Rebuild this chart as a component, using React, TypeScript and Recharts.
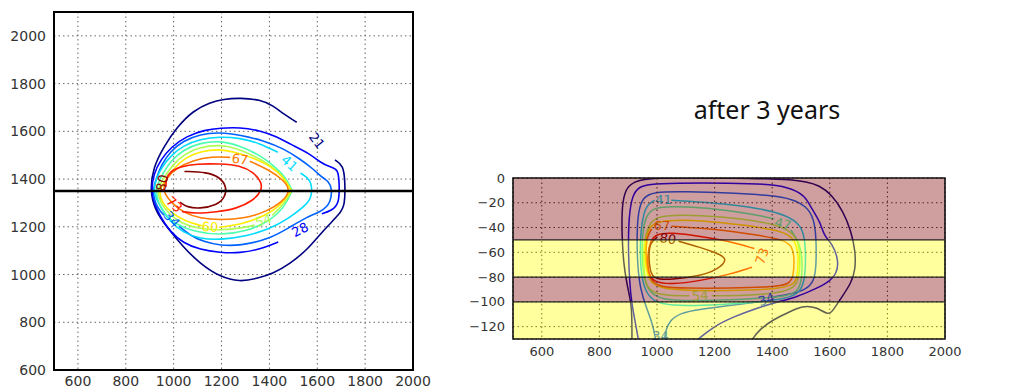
import React from "react"
import {
  LineChart,
  Line,
  XAxis,
  YAxis,
  CartesianGrid,
  ReferenceLine,
  ReferenceArea,
  ReferenceDot,
} from "recharts"

type Pt = [number, number | null]

// ticks
const xTicks = [600, 800, 1000, 1200, 1400, 1600, 1800, 2000]
const planYTicks = [600, 800, 1000, 1200, 1400, 1600, 1800, 2000]
const depthTicks = [-120, -100, -80, -60, -40, -20, 0]

// contour levels and their jet colours
const levels = [21, 28, 34, 41, 47, 54, 60, 67, 73, 80]
const levelColors = ["#000080", "#0000ff", "#0061ff", "#00dbff", "#4affad", "#adff52", "#ffed00", "#ff7a00", "#ff1c00", "#800000"]

// plan view contours (x, y); a null y breaks the line where a label sits
const plan21: Pt[] = [[1674,1480],[1709,1457],[1716,1394],[1716,1290],[1695,1255],[1625,1185],[1556,1101],[1486,1046],[1416,1004],[1347,983],[1277,969],[1194,990],[1110,1046],[1040,1115],[971,1199],[922,1269],[901,1352],[915,1450],[957,1533],[1013,1617],[1082,1687],[1152,1721],[1208,1735],[1277,1740],[1361,1733],[1417,1707],[1458,1673],[1514,1638]]
const plan28: Pt[] = [[1437,1136],[1360,1105],[1277,1090],[1194,1092],[1110,1104],[1040,1132],[985,1180],[945,1240],[918,1300],[906,1352],[916,1420],[945,1480],[990,1535],[1054,1580],[1130,1606],[1194,1614],[1277,1617],[1360,1603],[1430,1578],[1486,1547],[1570,1506],[1612,1470],[1653,1450],[1688,1443],[1692,1380],[1692,1297],[1660,1268],[1619,1255]]
const plan34: Pt[] = [[1022,1203],[1070,1162],[1130,1136],[1194,1122],[1277,1120],[1403,1150],[1486,1199],[1556,1241],[1612,1262],[1660,1297],[1660,1387],[1625,1401],[1584,1442],[1528,1484],[1460,1527],[1380,1560],[1277,1585],[1194,1596],[1110,1588],[1040,1560],[985,1515],[950,1462],[928,1405],[912,1352],[922,1300],[945,1262],[962,1248]]
const plan41: Pt[] = [[1530,1425],[1556,1408],[1577,1387],[1577,1317],[1542,1283],[1480,1235],[1400,1190],[1300,1160],[1194,1145],[1110,1150],[1040,1175],[985,1222],[950,1275],[926,1320],[916,1352],[926,1400],[950,1450],[990,1500],[1040,1540],[1110,1568],[1194,1578],[1277,1572],[1360,1550],[1435,1512]]
const plan47: Pt[] = [[1495,1352],[1470,1405],[1420,1455],[1360,1500],[1277,1540],[1194,1561],[1110,1552],[1040,1522],[990,1478],[955,1425],[922,1360],[935,1300],[965,1250],[1010,1210],[1090,1178],[1194,1165],[1300,1180],[1400,1222],[1465,1285],[1495,1352]]
const plan54: Pt[] = [[1493,1352],[1462,1408],[1405,1458],[1335,1498],[1260,1530],[1194,1544],[1110,1534],[1045,1505],[998,1462],[962,1410],[928,1355],[945,1300],[980,1255],[1030,1215],[1100,1192],[1194,1185],[1290,1195],[1338,1207],[1338,null],[1412,1248],[1465,1300],[1493,1352]]
const plan60: Pt[] = [[1491,1352],[1458,1410],[1400,1458],[1330,1490],[1250,1514],[1194,1526],[1110,1516],[1050,1490],[1005,1450],[970,1400],[935,1352],[952,1300],[990,1258],[1050,1222],[1118,1204],[1118,null],[1190,1198],[1290,1212],[1380,1245],[1450,1292],[1491,1352]]
const plan67: Pt[] = [[1318,1475],[1400,1438],[1460,1395],[1489,1352],[1455,1305],[1390,1265],[1300,1235],[1194,1228],[1110,1235],[1045,1258],[995,1295],[950,1352],[970,1405],[1010,1445],[1080,1478],[1160,1495],[1236,1491]]
const plan73: Pt[] = [[968,1368],[968,1400],[985,1432],[1027,1452],[1096,1464],[1194,1464],[1277,1457],[1333,1429],[1368,1387],[1368,1352],[1333,1310],[1263,1276],[1180,1262],[1089,1255],[1035,1264]]
const plan80: Pt[] = [[1045,1432],[1138,1429],[1194,1408],[1222,1366],[1215,1324],[1180,1290],[1110,1276],[1055,1282],[1027,1303]]

// section contours (x, depth)
const sec21: Pt[] = [[913,-130],[913,-104],[902,-93],[884,-71],[878,-45],[878,-23],[890,-9],[919,-3],[965,-0.5],[1058,0],[1290,0],[1406,-1],[1458,-1],[1521,-3],[1563,-6],[1605,-13],[1647,-27],[1674,-43],[1689,-59],[1689,-74],[1674,-85],[1642,-96],[1611,-107],[1595,-111],[1553,-104],[1505,-103],[1453,-109],[1405,-114],[1353,-123],[1332,-130]]
const sec28: Pt[] = [[935,-130],[925,-117],[912,-101],[905,-85],[900,-58],[902,-31],[915,-13],[940,-7],[970,-5],[1058,-4],[1250,-4],[1405,-5],[1474,-9],[1515,-15],[1533,-23],[1568,-36],[1580,-47],[1609,-53],[1630,-66],[1626,-77],[1591,-85],[1545,-90],[1487,-96],[1420,-100],[1347,-105],[1266,-112],[1196,-120],[1144,-130]]
const sec34: Pt[] = [[995,-130],[985,-118],[962,-104],[942,-90],[932,-70],[930,-45],[935,-27],[950,-16],[985,-11],[1100,-11],[1250,-12],[1400,-14],[1470,-17],[1520,-23],[1545,-33],[1553,-48],[1553,-72],[1545,-83],[1520,-90],[1460,-94],[1405,-96],[1405,null],[1352,-100],[1250,-103],[1150,-106],[1080,-109],[1045,-115],[1030,-123],[1026,-130]]
const sec41: Pt[] = [[1050,-18],[1200,-20],[1350,-24],[1450,-30],[1500,-38],[1516,-50],[1516,-80],[1500,-92],[1450,-98],[1300,-101],[1150,-103],[1050,-103],[990,-100],[960,-92],[945,-78],[941,-60],[944,-42],[953,-29],[968,-21],[992,-18]]
const sec47: Pt[] = [[1465,-42],[1494,-52],[1505,-65],[1503,-82],[1490,-92],[1440,-96],[1300,-98],[1150,-99],[1040,-99],[985,-95],[960,-86],[950,-72],[947,-55],[953,-38],[968,-28],[1000,-23],[1100,-23],[1250,-26],[1350,-30],[1408,-33]]
const sec54: Pt[] = [[1190,-95],[1300,-95],[1420,-93],[1478,-89],[1495,-80],[1497,-62],[1489,-50],[1460,-42],[1400,-37],[1300,-33],[1150,-30],[1020,-30],[980,-34],[960,-45],[953,-60],[955,-78],[965,-88],[990,-93],[1040,-95],[1112,-95]]
const sec60: Pt[] = [[1490,-65],[1488,-80],[1475,-87],[1400,-90],[1250,-91],[1100,-91],[1010,-89],[975,-84],[960,-72],[957,-58],[963,-45],[982,-37],[1030,-34],[1150,-34],[1300,-38],[1420,-42],[1468,-47],[1486,-55],[1490,-65]]
const sec67: Pt[] = [[1050,-39],[1200,-41],[1350,-46],[1440,-50],[1470,-55],[1477,-65],[1474,-79],[1460,-86],[1400,-88],[1250,-89],[1100,-89],[1010,-88],[978,-83],[964,-72],[961,-58],[966,-47],[982,-41]]
const sec73: Pt[] = [[1338,-57],[1250,-51],[1150,-47],[1050,-44],[998,-45],[976,-51],[967,-62],[969,-75],[983,-84],[1050,-86],[1150,-83],[1250,-78],[1330,-72]]
const sec80: Pt[] = [[1075,-51],[1150,-56],[1200,-60],[1250,-65],[1210,-74],[1150,-79],[1050,-82],[990,-82],[975,-75],[971,-62],[976,-52],[1000,-48]]

// soil layers in the section: [top, bottom, kind]
const layerTops = [0, -50, -80, -100]
const layerBottoms = [-50, -80, -100, -130]
const layerKinds = ["clay", "sand", "clay", "sand"]
const layerBreaks = [-50, -80, -100]

type ContourLabel = { text: string; level: number; x: number; y: number; angle: number }

const planLabels: ContourLabel[] = [
  { text: "21", level: 21, x: 1598, y: 1561, angle: 52 },
  { text: "28", level: 28, x: 1528, y: 1188, angle: -28 },
  { text: "41", level: 41, x: 1484, y: 1466, angle: 42 },
  { text: "67", level: 67, x: 1277, y: 1483, angle: 8 },
  { text: "54", level: 54, x: 1375, y: 1227, angle: -18 },
  { text: "60", level: 60, x: 1152, y: 1199, angle: 3 },
  { text: "34", level: 34, x: 992, y: 1232, angle: 48 },
  { text: "73", level: 73, x: 1003, y: 1294, angle: 42 },
  { text: "80", level: 80, x: 952, y: 1384, angle: -78 },
]

const sectionLabels: ContourLabel[] = [
  { text: "41", level: 41, x: 1023, y: -17.5, angle: 0 },
  { text: "47", level: 47, x: 1437, y: -37, angle: 15 },
  { text: "67", level: 67, x: 1017, y: -38, angle: 0 },
  { text: "80", level: 80, x: 1038, y: -49, angle: 8 },
  { text: "73", level: 73, x: 1365, y: -63, angle: -72 },
  { text: "54", level: 54, x: 1150, y: -95, angle: -5 },
  { text: "34", level: 34, x: 1380, y: -98, angle: -18 },
  { text: "34", level: 34, x: 1012, y: -127, angle: 0 },
]

const planContours = [plan21, plan28, plan34, plan41, plan47, plan54, plan60, plan67, plan73, plan80]
const sectionContours = [sec21, sec28, sec34, sec41, sec47, sec54, sec60, sec67, sec73, sec80]

const FONT = "DejaVu Sans"
const toRows = (pts: Pt[]) => pts.map(([x, y]) => ({ x, y }))
const colorOf = (level: number) => levelColors[levels.indexOf(level)]
const minusFmt = (v: number) => (v < 0 ? `\u2212${-v}` : `${v}`)

const labelShape = (l: ContourLabel) => (props: any) => {
  const { cx, cy } = props
  if (cx == null || cy == null) return <g />
  return (
    <text
      x={cx}
      y={cy}
      textAnchor="middle"
      dominantBaseline="central"
      transform={`rotate(${l.angle} ${cx} ${cy})`}
      fill={colorOf(l.level)}
      fontSize={13}
      fontFamily={FONT}
    >
      {l.text}
    </text>
  )
}

function PlanView() {
  return (
    <LineChart width={440} height={389} margin={{ top: 12, right: 27, bottom: 0, left: 0 }}>
      <CartesianGrid stroke="#666" strokeDasharray="1.5 3" />
      <XAxis
        type="number"
        dataKey="x"
        domain={[500, 2000]}
        ticks={xTicks}
        height={19}
        tickLine={false}
        axisLine={false}
        tickMargin={0}
        tick={{ fontSize: 14, fill: "#333", fontFamily: FONT }}
        allowDataOverflow
      />
      <YAxis
        type="number"
        domain={[600, 2100]}
        ticks={planYTicks}
        width={54}
        tickLine={false}
        axisLine={false}
        tick={{ fontSize: 14, fill: "#333", fontFamily: FONT }}
        allowDataOverflow
      />
      {planContours.map((pts, i) => (
        <Line
          key={levels[i]}
          data={toRows(pts)}
          dataKey="y"
          type="basis"
          stroke={levelColors[i]}
          strokeWidth={1.6}
          dot={false}
          activeDot={false}
          isAnimationActive={false}
        />
      ))}
      <ReferenceLine y={1350} stroke="#000" strokeWidth={2.5} />
      {planLabels.map((l, i) => (
        <ReferenceDot key={i} x={l.x} y={l.y} r={0} shape={labelShape(l)} />
      ))}
      <ReferenceArea x1={500} x2={2000} y1={600} y2={2100} fill="none" stroke="#000" strokeWidth={2} />
    </LineChart>
  )
}

const secMargin = { top: 18, right: 35, bottom: 20, left: 0 }

function SectionLines() {
  return (
    <LineChart width={540} height={229} margin={secMargin}>
      <XAxis type="number" dataKey="x" domain={[500, 2000]} ticks={xTicks} height={30} tick={false} tickLine={false} axisLine={false} allowDataOverflow />
      <YAxis type="number" domain={[-130, 0]} ticks={depthTicks} width={73} tick={false} tickLine={false} axisLine={false} allowDataOverflow />
      {sectionContours.map((pts, i) => (
        <Line
          key={levels[i]}
          data={toRows(pts)}
          dataKey="y"
          type="basis"
          stroke={levelColors[i]}
          strokeWidth={1.5}
          dot={false}
          activeDot={false}
          isAnimationActive={false}
        />
      ))}
      {sectionLabels.map((l, i) => (
        <ReferenceDot key={i} x={l.x} y={l.y} r={0} shape={labelShape(l)} />
      ))}
    </LineChart>
  )
}

// translucent layers, grid, axes and frame drawn over the contour lines
function SectionLayers() {
  return (
    <LineChart width={540} height={229} margin={secMargin}>
      <CartesianGrid stroke="#333" strokeDasharray="1.5 3" />
      <XAxis
        type="number"
        dataKey="x"
        domain={[500, 2000]}
        ticks={xTicks}
        height={30}
        tickLine={false}
        axisLine={false}
        tick={{ fontSize: 13, fill: "#333", fontFamily: FONT }}
        allowDataOverflow
      />
      <YAxis
        type="number"
        domain={[-130, 0]}
        ticks={depthTicks}
        width={73}
        tickLine={false}
        axisLine={false}
        tickFormatter={minusFmt}
        tick={{ fontSize: 13, fill: "#333", fontFamily: FONT }}
        allowDataOverflow
      />
      <Line data={[{ x: 500, y: 0 }, { x: 2000, y: 0 }]} dataKey="y" stroke="none" dot={false} activeDot={false} isAnimationActive={false} />
      {layerKinds.map((kind, i) => (
        <ReferenceArea
          key={i}
          x1={500}
          x2={2000}
          y1={layerBottoms[i]}
          y2={layerTops[i]}
          fill={kind === "clay" ? "#800000" : "#ffff00"}
          fillOpacity={0.38}
          stroke="none"
        />
      ))}
      {layerBreaks.map((y) => (
        <ReferenceLine key={y} y={y} stroke="#222" strokeWidth={1.2} />
      ))}
      <ReferenceArea x1={500} x2={2000} y1={-130} y2={0} fill="none" stroke="#111" strokeWidth={1.6} />
    </LineChart>
  )
}

export default function App() {
  return (
    <div style={{ position: "absolute", left: 0, top: 0, width: 1019, height: 389, background: "#fff", overflow: "hidden" }}>
      <div style={{ position: "absolute", left: 0, top: 0 }}>
        <PlanView />
      </div>
      <div style={{ position: "absolute", left: 440, top: 160 }}>
        <SectionLines />
      </div>
      <div style={{ position: "absolute", left: 440, top: 160 }}>
        <SectionLayers />
      </div>
      <svg width={1019} height={389} style={{ position: "absolute", left: 0, top: 0, pointerEvents: "none" }}>
        <text x={767} y={119} textAnchor="middle" fontSize={25} fontFamily="Noto Sans" fill="#111">
          after 3 years
        </text>
      </svg>
    </div>
  )
}
